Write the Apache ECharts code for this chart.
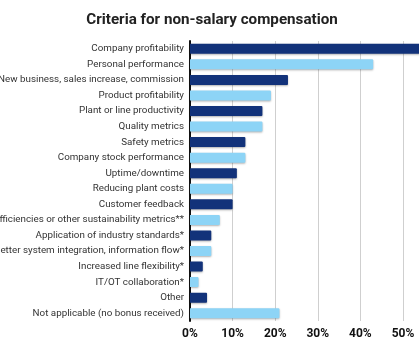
<!DOCTYPE html>
<html>
<head>
<meta charset="utf-8">
<script src="https://cdn.jsdelivr.net/npm/echarts@6/dist/echarts.min.js"></script>
<style>
  html, body { margin: 0; padding: 0; background: #fff; }
  #chart { width: 419px; height: 350px; }
</style>
</head>
<body>
<div id="chart"></div>
<script type="text/javascript">
	// data (percent of respondents)
	var categories = [
		'Company profitability',
		'Personal performance',
		'New business, sales increase, commission',
		'Product profitability',
		'Plant or line productivity',
		'Quality metrics',
		'Safety metrics',
		'Company stock performance',
		'Uptime/downtime',
		'Reducing plant costs',
		'Customer feedback',
		'Energy efficiencies or other sustainability metrics**',
		'Application of industry standards*',
		'Better system integration, information flow*',
		'Increased line flexibility*',
		'IT/OT collaboration*',
		'Other',
		'Not applicable (no bonus received)'
	];
	var values = [54, 43, 23, 19, 17, 17, 13, 13, 11, 10, 10, 7, 5, 5, 3, 2, 4, 21];
	var tickValues = [0, 10, 20, 30, 40, 50, 60];

	var barColors = ['#12327a', '#8dd4f6'];

	var myChart = echarts.init(document.getElementById('chart'));

	// the original picture is cropped: labels run off the left, bars off the right
	myChart.setOption({
		animation: false,
		title: {
			text: 'Criteria for non-salary compensation',
			left: 207,
			textAlign: 'center',
			top: 8,
			textStyle: {
				fontFamily: 'Roboto',
				fontWeight: 'bold',
				fontSize: 15.2,
				color: '#222'
			}
		},
		grid: {
			left: 190,
			top: 41,
			width: 255.6,
			height: 280,
			containLabel: false,
			outerBoundsMode: 'none'
		},
		xAxis: {
			type: 'value',
			min: tickValues[0],
			max: tickValues[tickValues.length - 1],
			interval: 10,
			axisLine: { show: false },
			axisTick: { show: false },
			splitLine: { lineStyle: { color: '#cfcfcf', width: 1 } },
			axisLabel: {
				formatter: '{value}%',
				fontFamily: 'Roboto',
				fontWeight: 'bold',
				fontSize: 12,
				color: '#111',
				margin: 7
			}
		},
		yAxis: {
			type: 'category',
			inverse: true,
			data: categories,
			axisLine: { lineStyle: { color: '#111', width: 2 } },
			axisTick: { show: false },
			axisLabel: {
				fontFamily: 'Roboto',
				fontSize: 9.8,
				color: '#333',
				margin: 6
			}
		},
		series: [{
			type: 'bar',
			barWidth: 10,
			data: values.map(function (v, i) {
				return {
					value: v,
					itemStyle: { color: barColors[i % 2] }
				};
			}),
			itemStyle: {
				borderRadius: [0, 1, 1, 0],
				shadowBlur: 2,
				shadowColor: 'rgba(0,0,0,0.3)',
				shadowOffsetY: 1
			}
		}]
	});
</script>
</body>
</html>
